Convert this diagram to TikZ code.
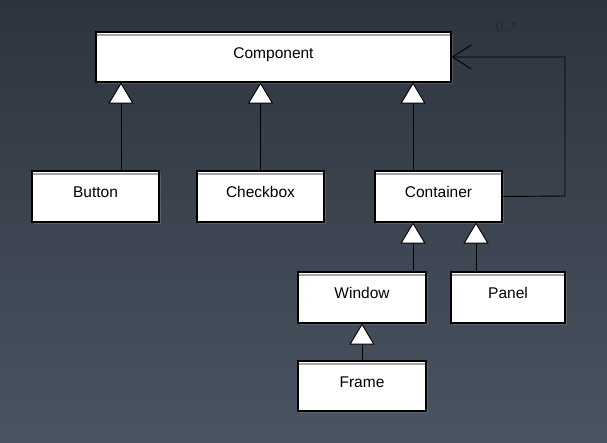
\documentclass[tikz,border=0pt]{standalone}
\usepackage{fontspec}
\setmainfont{Liberation Sans}
\usetikzlibrary{arrows.meta,shadows}
\definecolor{bgtop}{RGB}{45,52,62}
\definecolor{bgbot}{RGB}{74,84,98}
\begin{document}
\begin{tikzpicture}[x=1pt,y=-1pt,
  cls/.style={draw=black,fill=white,line width=1.1pt,inner sep=0pt,
    font=\fontsize{15.5}{17}\selectfont,text height=10pt,text depth=8pt,
    drop shadow={shadow xshift=1.5pt,shadow yshift=-1.5pt,opacity=0.45},
    path picture={\draw[gray!70,line width=1.3pt]
      ([yshift=-3pt]path picture bounding box.north west) --
      ([yshift=-3pt]path picture bounding box.north east);}},
  inh/.style={line width=0.9pt,-{Triangle[width=25pt,length=21pt,fill=white,line width=0.9pt]}},
  agg/.style={line width=0.9pt,-{Straight Barb[width=24pt,length=19pt,line width=0.9pt]}}]
\shade[top color=bgtop,bottom color=bgbot] (0,0) rectangle (607,442);
% classes
\node[cls,minimum width=355pt,minimum height=50pt] (cmp) at (273.5,57) {Component};
\node[cls,minimum width=127pt,minimum height=51pt] (btn) at (95.5,196.5) {Button};
\node[cls,minimum width=127pt,minimum height=51pt] (chk) at (260.5,196.5) {Checkbox};
\node[cls,minimum width=127pt,minimum height=51pt] (ctr) at (438.5,196.5) {Container};
\node[cls,minimum width=128pt,minimum height=51pt] (win) at (362,297.5) {Window};
\node[cls,minimum width=114pt,minimum height=51pt] (pnl) at (508,297.5) {Panel};
\node[cls,minimum width=128pt,minimum height=50pt] (frm) at (362,386) {Frame};
% inheritance
\draw[inh] ([xshift=25.5pt]btn.north) -- ([xshift=25.5pt]btn.north |- cmp.south);
\draw[inh] (chk.north) -- (chk.north |- cmp.south);
\draw[inh] ([xshift=-25.5pt]ctr.north) -- ([xshift=-25.5pt]ctr.north |- cmp.south);
\draw[inh] ([xshift=51pt]win.north) -- ([xshift=51pt]win.north |- ctr.south);
\draw[inh] ([xshift=-32pt]pnl.north) -- ([xshift=-32pt]pnl.north |- ctr.south);
\draw[inh] (frm.north) -- (win.south);
% self association
\coordinate (selfc) at (565,196);
\draw[agg] (ctr.east) -- (selfc) |- (cmp.east);
\node[font=\fontsize{14}{16}\selectfont,text=black!85] (mult) at (506,27) {0..*};
\end{tikzpicture}
\end{document}
